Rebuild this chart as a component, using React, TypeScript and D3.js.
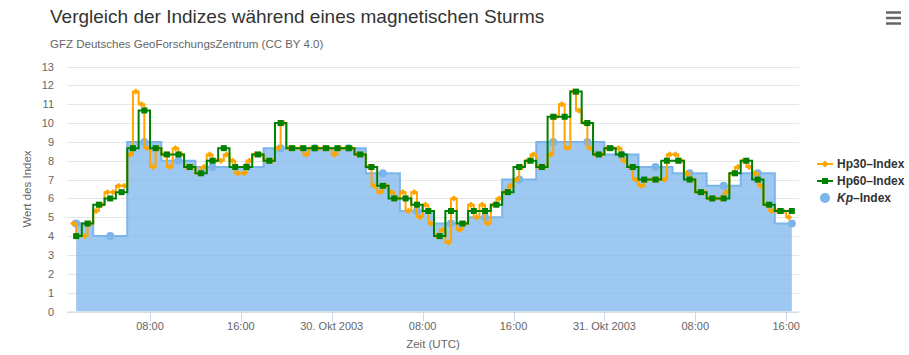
import React from "react";
import * as d3 from "d3";

// ---- Data (values in Hp/Kp units, thirds) ----
const HOUR = 3600 * 1000;
const t0 = Date.UTC(2003, 9, 29, 0, 0);

// Hp30: every 30 min, starting 29 Oct 2003 01:15 UTC
const hp30Start = Date.UTC(2003, 9, 29, 1, 15);
const hp30Values = [
  4.667, 4.0, 4.0, 4.667, 5.333, 5.667, 6.333, 6.333, 6.667, 6.667,
  8.333, 11.667, 11.0, 8.667, 7.667, 8.667, 8.333, 7.667, 8.667, 8.333,
  7.667, 7.667, 7.333, 7.667, 8.333, 8.0, 8.0, 8.333, 8.0, 7.333,
  7.333, 8.0, 8.333, 8.333, 8.0, 8.0, 8.667, 10.0, 8.667, 8.667,
  8.667, 8.333, 8.667, 8.667, 8.667, 8.667, 8.333, 8.667, 8.667, 8.667,
  8.333, 8.333, 7.667, 6.667, 6.333, 6.667, 6.333, 6.0, 6.333, 5.333,
  6.333, 5.0, 5.667, 4.667, 4.0, 4.333, 3.667, 6.0, 4.333, 4.667,
  5.667, 5.0, 5.667, 4.667, 5.667, 6.0, 6.333, 6.667, 7.0, 7.667,
  8.0, 8.333, 7.667, 7.667, 8.333, 10.333, 11.0, 8.667, 11.667, 10.667,
  10.0, 8.667, 8.333, 8.333, 8.667, 8.667, 8.667, 8.0, 7.667, 7.0,
  6.667, 7.0, 7.0, 7.0, 7.0, 8.333, 8.333, 8.0, 7.333, 7.0,
  6.333, 6.333, 6.0, 6.0, 6.0, 6.333, 7.333, 7.667, 8.0, 7.667,
  7.333, 6.667, 5.667, 5.333, 5.333, 5.333, 5.0,
];

// Hp60: every hour, starting 29 Oct 2003 01:30 UTC
const hp60Start = Date.UTC(2003, 9, 29, 1, 30);
const hp60Values = [
  4.0, 4.667, 5.667, 6.0, 6.333, 8.667, 10.667, 8.667, 8.333, 8.333,
  7.667, 7.333, 8.0, 8.667, 7.667, 7.667, 8.333, 8.0, 10.0, 8.667,
  8.667, 8.667, 8.667, 8.667, 8.667, 8.333, 7.667, 6.667, 6.0, 6.0,
  5.667, 5.333, 4.0, 5.333, 4.667, 5.333, 5.333, 5.667, 6.333, 7.667,
  8.0, 7.667, 10.333, 10.333, 11.667, 10.0, 8.333, 8.667, 8.333, 7.667,
  7.0, 7.0, 8.0, 8.0, 7.0, 6.333, 6.0, 6.0, 7.333, 8.0,
  7.0, 5.667, 5.333, 5.333,
];

// Kp: every 3 hours, starting 29 Oct 2003 01:30 UTC
const kpStart = Date.UTC(2003, 9, 29, 1, 30);
const kpValues = [
  4.667, 4.0, 9.0, 8.0, 7.667, 7.667, 8.667, 8.667, 8.667, 7.333,
  5.333, 4.667, 5.0, 7.0, 9.0, 9.0, 8.333, 7.667, 7.333, 6.667,
  7.333, 4.667,
];

const yTicks = d3.range(0, 14);
const xTickLabels = ["08:00", "16:00", "30. Okt 2003", "08:00", "16:00", "31. Okt 2003", "08:00", "16:00"];
const xTickTimes = xTickLabels.map((_, i) => t0 + (i + 1) * 8 * HOUR);

const title = "Vergleich der Indizes während eines magnetischen Sturms";
const subtitle = "GFZ Deutsches GeoForschungsZentrum (CC BY 4.0)";

type Pt = { t: number; v: number };
const mk = (start: number, stepH: number, vals: number[]): Pt[] =>
  vals.map((v, i) => ({ t: start + i * stepH * HOUR, v }));

const hp30 = mk(hp30Start, 0.5, hp30Values);
const hp60 = mk(hp60Start, 1, hp60Values);
const kp = mk(kpStart, 3, kpValues);

const FONT = "'Liberation Sans', Arial, Helvetica, sans-serif";

export default function App() {
  const W = 909, H = 355;
  const L = 67, R = 799, T = 66.5, B = 311.5;

  const x = d3.scaleLinear()
    .domain([t0 + 0.695 * HOUR, t0 + 65.13 * HOUR])
    .range([L, R]);
  const y = d3.scaleLinear().domain([0, 13]).range([B, T]);

  const kpArea = d3.area<Pt>().curve(d3.curveStep)
    .x(d => x(d.t)).y0(y(0)).y1(d => y(d.v));
  const kpLine = d3.line<Pt>().curve(d3.curveStep).x(d => x(d.t)).y(d => y(d.v));
  const stepLine = d3.line<Pt>().curve(d3.curveStep).x(d => x(d.t)).y(d => y(d.v));

  const orange = "#ffa500";
  const green = "#008000";
  const blue = "#7cb5ec";

  const diamond = (cx: number, cy: number, r: number) =>
    `M${cx},${cy - r}L${cx + r},${cy}L${cx},${cy + r}L${cx - r},${cy}Z`;

  return (
    <svg width={W} height={H} style={{ position: "absolute", left: 0, top: 0, fontFamily: FONT }}>
      <rect x={0} y={0} width={W} height={H} fill="#ffffff" />
      <defs>
        <clipPath id="plotclip">
          <rect x={L} y={T - 10} width={R - L + 5} height={B - T + 10} />
        </clipPath>
      </defs>

      {/* title */}
      <text x={50} y={23} fontSize={19} fill="#333333">{title}</text>
      <text x={50} y={48} fontSize={11.5} fill="#666666">{subtitle}</text>

      {/* menu icon */}
      {[12.5, 18, 23.5].map((yy, i) => (
        <line key={i} x1={886} x2={901} y1={yy} y2={yy} stroke="#666666" strokeWidth={2.5} />
      ))}

      {/* grid */}
      {yTicks.map(v => (
        <line key={v} x1={L} x2={R} y1={Math.round(y(v)) + 0.5} y2={Math.round(y(v)) + 0.5}
          stroke="#e6e6e6" strokeWidth={1} />
      ))}

      {/* y labels */}
      {yTicks.map(v => (
        <text key={v} x={54} y={y(v) + 4} fontSize={11} fill="#666666" textAnchor="end">{v}</text>
      ))}
      <text transform={`translate(31,${(T + B) / 2}) rotate(-90)`} fontSize={11.5} fill="#666666" textAnchor="middle">
        Wert des Index
      </text>

      {/* series */}
      <g clipPath="url(#plotclip)">
        <path d={kpArea(kp) || ""} fill={blue} fillOpacity={0.75} />
        <path d={kpLine(kp) || ""} fill="none" stroke={blue} strokeWidth={2} />
        {kp.map((d, i) => (
          <circle key={i} cx={x(d.t)} cy={y(d.v)} r={4} fill={blue} />
        ))}

        <path d={stepLine(hp30) || ""} fill="none" stroke={orange} strokeWidth={2} />
        {hp30.map((d, i) => (
          <path key={i} d={diamond(x(d.t), y(d.v), 3.2)} fill={orange} />
        ))}

        <path d={stepLine(hp60) || ""} fill="none" stroke={green} strokeWidth={2} />
        {hp60.map((d, i) => (
          <rect key={i} x={x(d.t) - 3} y={y(d.v) - 3} width={6} height={6} fill={green} />
        ))}
      </g>

      {/* x axis */}
      <line x1={L} x2={R} y1={B + 0.5} y2={B + 0.5} stroke="#ccd6eb" strokeWidth={1} />
      {xTickTimes.map((t, i) => (
        <g key={i}>
          <line x1={Math.round(x(t)) + 0.5} x2={Math.round(x(t)) + 0.5} y1={B} y2={B + 10}
            stroke="#ccd6eb" strokeWidth={1} />
          <text x={x(t)} y={330} fontSize={11} fill="#666666" textAnchor="middle">{xTickLabels[i]}</text>
        </g>
      ))}
      <text x={(L + R) / 2} y={348} fontSize={11.5} fill="#666666" textAnchor="middle">Zeit (UTC)</text>

      {/* legend */}
      <g fontSize={12} fontWeight="bold" fill="#333333">
        <line x1={817} x2={833} y1={164} y2={164} stroke={orange} strokeWidth={2} />
        <path d={diamond(825, 164, 3.5)} fill={orange} />
        <text x={837} y={168}>Hp30–Index</text>

        <line x1={817} x2={833} y1={181} y2={181} stroke={green} strokeWidth={2} />
        <rect x={822} y={178} width={6} height={6} fill={green} />
        <text x={837} y={185}>Hp60–Index</text>

        <circle cx={825} cy={198} r={5} fill={blue} />
        <text x={837} y={202}><tspan fontStyle="italic">Kp</tspan>–Index</text>
      </g>
    </svg>
  );
}
